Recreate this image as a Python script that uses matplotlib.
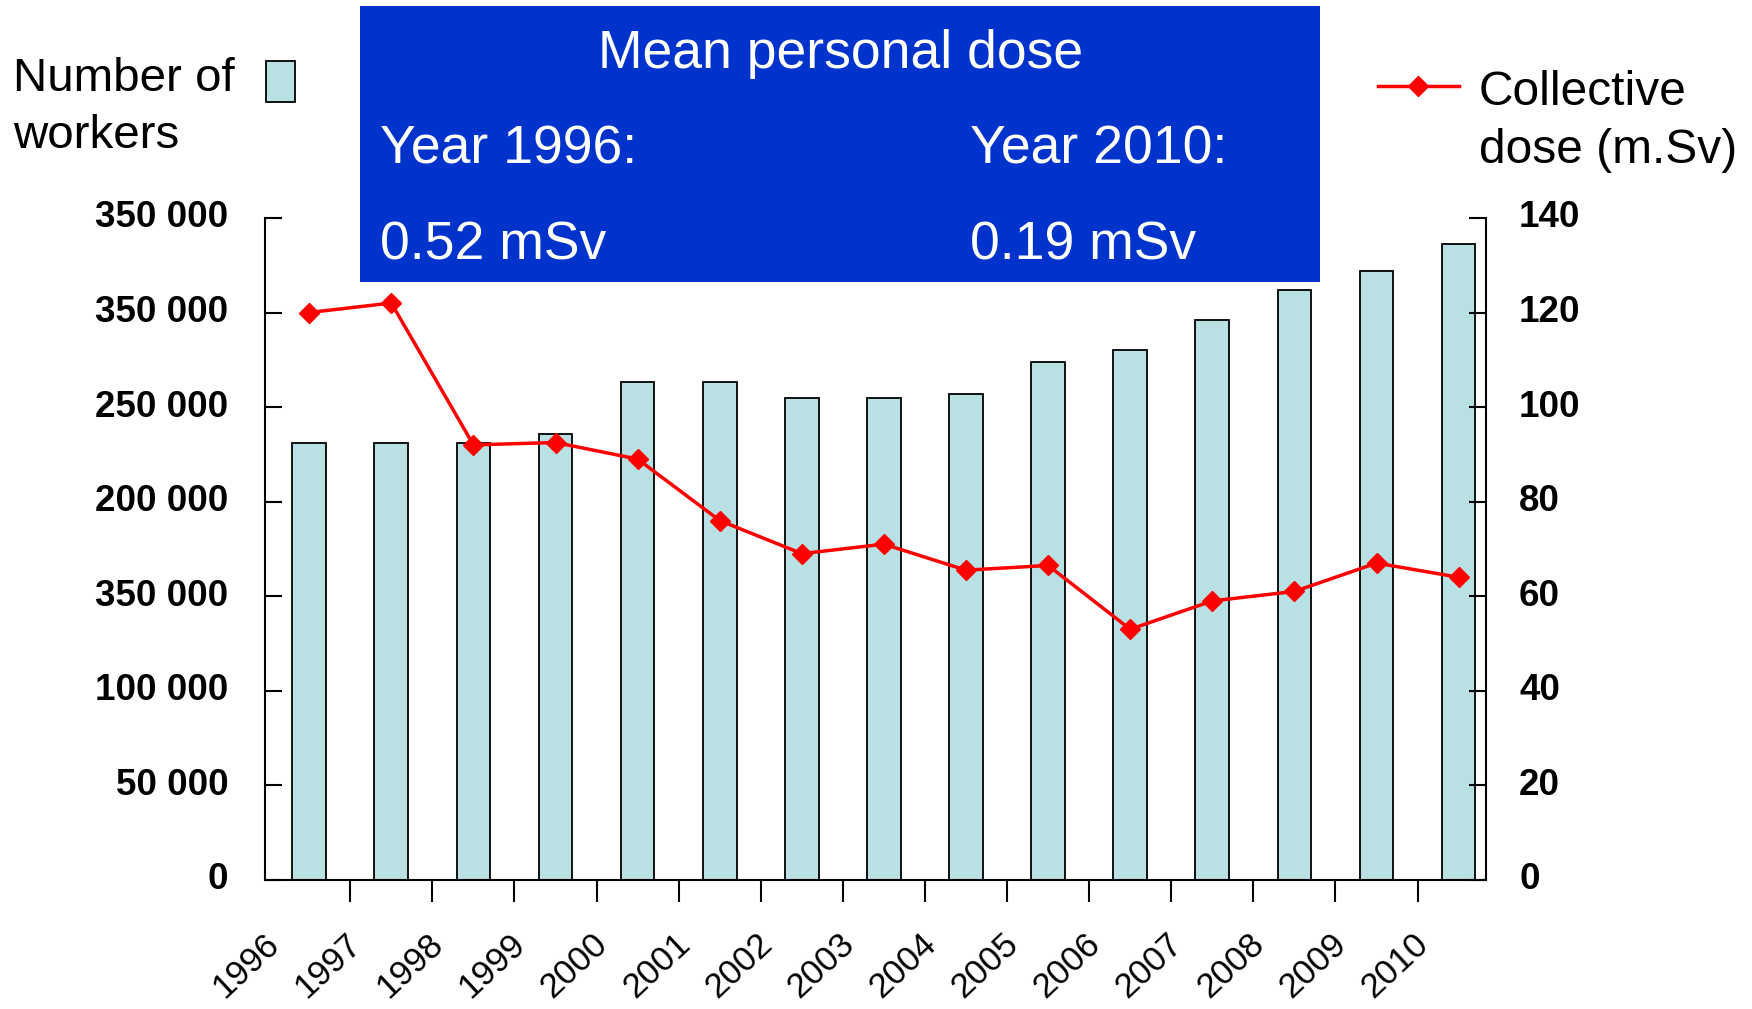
import matplotlib
matplotlib.use('Agg')
import matplotlib.pyplot as plt
from matplotlib.patches import Rectangle
from matplotlib.lines import Line2D
from matplotlib.transforms import ScaledTranslation

plt.rcParams['font.family'] = ['Liberation Sans', 'DejaVu Sans']

years = ['1996', '1997', '1998', '1999', '2000', '2001', '2002', '2003',
         '2004', '2005', '2006', '2007', '2008', '2009', '2010']
workers = [231000, 231000, 231000, 236000, 263000, 263000, 255000, 255000,
           257000, 274000, 280000, 296000, 312000, 322000, 336000]
collective_dose = [120, 122, 92, 92.5, 89, 76, 69, 71, 65.5, 66.5, 53, 59, 61, 67, 64]

left_ticks = [0, 50000, 100000, 150000, 200000, 250000, 300000, 350000]
left_labels = ['0', '50 000', '100 000', '350 000', '200 000', '250 000', '350 000', '350 000']
right_ticks = [0, 20, 40, 60, 80, 100, 120, 140]

bar_color = '#b9e0e3'
box_color = '#0033cc'

fig = plt.figure(figsize=(17.52, 10.09), dpi=100)
ax = fig.add_axes([0.151, 0.128, 0.697, 0.656])
ax2 = ax.twinx()

x = list(range(len(years)))
ax.bar(x, workers, width=0.41, color=bar_color, edgecolor='black', linewidth=1.3)
ax2.plot(x, collective_dose, color='#ff0000', linewidth=2.5, marker='D',
         markersize=10, markeredgecolor='#ff0000')

ax.set_xlim(-0.544, 14.33)
ax.set_ylim(0, 350000)
ax2.set_ylim(0, 140)

for a in (ax, ax2):
    a.spines['top'].set_visible(False)
ax.spines['right'].set_visible(False)
ax.spines['left'].set_linewidth(1.5)
ax.spines['bottom'].set_linewidth(1.5)
ax2.spines['right'].set_linewidth(1.5)
ax2.spines['left'].set_visible(False)
ax2.spines['bottom'].set_visible(False)

# labels sit a little above their ticks in the original
lift = ScaledTranslation(0, 0.04, fig.dpi_scale_trans)

ax.set_yticks(left_ticks)
ax.set_yticklabels(left_labels, fontsize=26.5, fontweight='bold')
ax.tick_params(axis='y', direction='in', length=12, width=1.5, pad=26)
for lab in ax.get_yticklabels():
    lab.set_transform(lab.get_transform() + lift)

ax2.set_yticks(right_ticks)
ax2.set_yticklabels([str(t) for t in right_ticks], fontsize=26.5, fontweight='bold')
ax2.tick_params(axis='y', direction='in', length=12, width=1.5, pad=24)
for lab in ax2.get_yticklabels():
    lab.set_transform(lab.get_transform() + lift)

ax.set_xticks(x)
ax.set_xticklabels(years, fontsize=25, rotation=43, va='center', ha='center')
ax.set_xticks([i + 0.5 for i in range(len(years) - 1)], minor=True)
ax.tick_params(axis='x', which='major', length=0, pad=62)
ax.tick_params(axis='x', which='minor', direction='out', length=16, width=1.5)
shift = ScaledTranslation(-0.63, 0, fig.dpi_scale_trans)
for lab in ax.get_xticklabels():
    lab.set_transform(lab.get_transform() + shift)

# blue info box
fig.add_artist(Rectangle((0.2055, 0.7205), 0.548, 0.2735, transform=fig.transFigure,
                         facecolor=box_color, edgecolor='none', zorder=5))
fig.text(0.4795, 0.946, 'Mean personal dose', color='white', fontsize=38.5,
         ha='center', va='center', zorder=6)
fig.text(0.2169, 0.852, 'Year 1996:', color='white', fontsize=38.5, ha='left', va='center', zorder=6)
fig.text(0.2169, 0.757, '0.52 mSv', color='white', fontsize=38.5, ha='left', va='center', zorder=6)
fig.text(0.5537, 0.852, 'Year 2010:', color='white', fontsize=38.5, ha='left', va='center', zorder=6)
fig.text(0.5537, 0.757, '0.19 mSv', color='white', fontsize=38.5, ha='left', va='center', zorder=6)

# left legend
fig.text(0.0074, 0.922, 'Number of', fontsize=34.2, ha='left', va='center')
fig.text(0.0074, 0.865, 'workers', fontsize=34.2, ha='left', va='center')
fig.add_artist(Rectangle((0.1518, 0.899), 0.0166, 0.0406, transform=fig.transFigure,
                         facecolor=bar_color, edgecolor='black', linewidth=1.3))

# right legend
fig.add_artist(Line2D([0.7865, 0.8328], [0.9148, 0.9148], transform=fig.transFigure,
                      color='#ff0000', linewidth=2.5))
fig.add_artist(Line2D([0.8094], [0.9148], transform=fig.transFigure, color='#ff0000',
                      marker='D', markersize=10))
fig.text(0.8442, 0.9085, 'Collective', fontsize=34.5, ha='left', va='center')
fig.text(0.8442, 0.851, 'dose (m.Sv)', fontsize=34.5, ha='left', va='center')

fig.savefig('out.png', dpi=100)
